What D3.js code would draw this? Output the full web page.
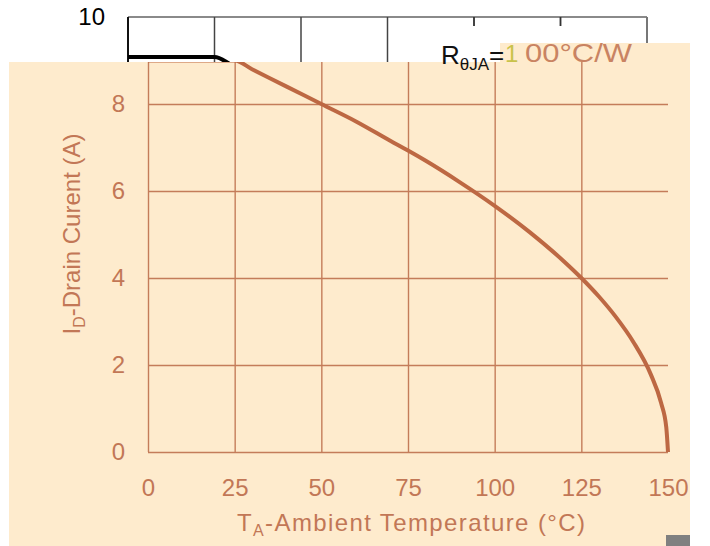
<!DOCTYPE html>
<html><head><meta charset="utf-8">
<script src="https://cdn.jsdelivr.net/npm/d3@7"></script>
<style>
body{margin:0;background:#fff;}
svg{display:block;font-family:"Liberation Sans",Arial,sans-serif;}
</style></head>
<body>
<svg id="c" width="710" height="546"></svg>
<script>
// Data
const temps   = [0, 25, 30, 40, 50, 60, 70, 75, 80, 90, 100, 110, 120, 125, 130, 135, 140, 145, 148, 149.5, 150];
const current = [9, 9.0, 8.8, 8.4, 8.0, 7.6, 7.15, 6.93, 6.7, 6.2, 5.66, 5.06, 4.38, 4.0, 3.58, 3.1, 2.53, 1.79, 1.13, 0.57, 0];
const xTicks = [0, 25, 50, 75, 100, 125, 150];
const yTicks = [0, 2, 4, 6, 8];
const xTitle = ["T", "A", "-Ambient Temperature (°C)"];
const yTitle = ["I", "D", "-Drain Curent (A)"];
const rLabel = ["R", "θJA", "=", "1", "00°C/W"];

const pts = temps.map((t, i) => ({t, v: current[i]}));
const svg = d3.select("#c");
const brown = "#C27756", grid = "#C47C5A", peach = "#FEEBCD";

// ---------- original black & white chart (top part visible) ----------
const bx = d3.scaleLinear().domain([0, 150]).range([128, 647]);
const by = d3.scaleLinear().domain([0, 10]).range([417, 17]);
const bw = svg.append("g");
bw.append("line").attr("x1", bx(0)).attr("x2", bx(150)).attr("y1", 17).attr("y2", 17)
  .attr("stroke", "#8a8a8a").attr("stroke-width", 2);
bw.append("line").attr("x1", bx(150)).attr("x2", bx(150)).attr("y1", 17).attr("y2", 60)
  .attr("stroke", "#777").attr("stroke-width", 2);
bw.append("line").attr("x1", bx(0)).attr("x2", bx(0)).attr("y1", 17).attr("y2", 70)
  .attr("stroke", "#111").attr("stroke-width", 2);
[25, 50, 75, 100, 125].forEach(t => {
  bw.append("line").attr("x1", bx(t)).attr("x2", bx(t)).attr("y1", 17).attr("y2", 70)
    .attr("stroke", "#444").attr("stroke-width", 1.5);
});
bw.append("path").datum(pts)
  .attr("d", d3.line().x(d => bx(d.t)).y(d => by(d.v)).curve(d3.curveMonotoneX))
  .attr("fill", "none").attr("stroke", "#000").attr("stroke-width", 4);
bw.append("g").attr("transform", `translate(${bx(0)},0)`)
  .call(d3.axisLeft(by).tickValues([10]).tickSize(0).tickPadding(23))
  .call(g => g.select(".domain").remove())
  .call(g => g.selectAll("text").attr("font-size", 24).attr("fill", "#000")
      .attr("font-family", "Liberation Sans, Arial"));
// white label box
bw.append("rect").attr("x", 396).attr("y", 26).attr("width", 246).attr("height", 40).attr("fill", "#fff");
// short ticks above the label box
[100, 125].forEach(t => {
  bw.append("line").attr("x1", bx(t)).attr("x2", bx(t)).attr("y1", 17).attr("y2", 26)
    .attr("stroke", "#333").attr("stroke-width", 1.5);
});

// ---------- peach overlay chart ----------
svg.append("rect").attr("x", 9).attr("y", 62).attr("width", 681).attr("height", 484).attr("fill", peach);
svg.append("rect").attr("x", 500).attr("y", 43).attr("width", 190).attr("height", 20).attr("fill", peach);
svg.append("rect").attr("x", 666).attr("y", 535).attr("width", 24).attr("height", 11).attr("fill", "#808080");

// R label
const rl = svg.append("text").attr("x", 441).attr("y", 64).attr("font-size", 26).attr("fill", "#111");
rl.append("tspan").text(rLabel[0]);
rl.append("tspan").attr("font-size", 17).attr("dy", 6).text(rLabel[1]);
rl.append("tspan").attr("dy", -6).text(rLabel[2]);
svg.append("text").attr("x", 505).attr("y", 62).attr("font-size", 24).attr("fill", "#c9c24a").text(rLabel[3]);
svg.append("text").attr("x", 525).attr("y", 62).attr("font-size", 26).attr("fill", "#C98362")
  .attr("textLength", 107).attr("lengthAdjust", "spacingAndGlyphs").text(rLabel[4]);

const x = d3.scaleLinear().domain([0, 150]).range([148, 668]);
const y = d3.scaleLinear().domain([0, 10]).range([452, 17]);
const plot = svg.append("g");

// y axis with horizontal grid
plot.append("g").attr("transform", `translate(${x(0)},0)`)
  .call(d3.axisLeft(y).tickValues(yTicks).tickSize(-(x(150) - x(0))).tickPadding(23))
  .call(g => g.select(".domain").remove())
  .call(g => g.selectAll("line").attr("stroke", grid).attr("stroke-width", 1.4))
  .call(g => g.selectAll("text").attr("font-size", 24).attr("fill", brown)
      .attr("font-family", "Liberation Sans, Arial"));

// x axis with vertical grid
plot.append("g").attr("transform", `translate(0,${y(0)})`)
  .call(d3.axisBottom(x).tickValues(xTicks).tickSize(-(y(0) - 62)).tickPadding(27))
  .call(g => g.select(".domain").remove())
  .call(g => g.selectAll("line").attr("stroke", grid).attr("stroke-width", 1.4)
      .attr("opacity", d => d === 150 ? 0 : 1))
  .call(g => g.selectAll("text").attr("font-size", 24).attr("fill", brown)
      .attr("font-family", "Liberation Sans, Arial"));

// curve, clipped to the peach area
svg.append("clipPath").attr("id", "pc").append("rect")
  .attr("x", 9).attr("y", 62).attr("width", 681).attr("height", 484);
plot.append("path").datum(pts).attr("clip-path", "url(#pc)")
  .attr("d", d3.line().x(d => x(d.t)).y(d => y(d.v)).curve(d3.curveMonotoneX))
  .attr("fill", "none").attr("stroke", "#BD6843").attr("stroke-width", 4);

// axis titles
const xt = svg.append("text").attr("x", 411).attr("y", 531).attr("text-anchor", "middle")
  .attr("font-size", 24).attr("fill", brown).attr("textLength", 348).attr("lengthAdjust", "spacing");
xt.append("tspan").text(xTitle[0]);
xt.append("tspan").attr("font-size", 16).attr("dy", 5).text(xTitle[1]);
xt.append("tspan").attr("dy", -5).text(xTitle[2]);

const yt = svg.append("text").attr("transform", "translate(80,234) rotate(-90)")
  .attr("text-anchor", "middle").attr("font-size", 24).attr("fill", brown);
yt.append("tspan").text(yTitle[0]);
yt.append("tspan").attr("font-size", 16).attr("dy", 5).text(yTitle[1]);
yt.append("tspan").attr("dy", -5).text(yTitle[2]);
</script>
</body></html>
